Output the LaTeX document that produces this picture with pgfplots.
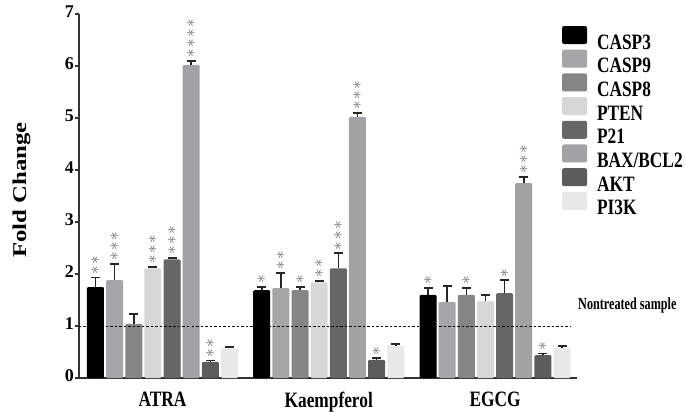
\documentclass[border=0pt]{standalone}
\usepackage{pgfplots}
\pgfplotsset{compat=1.18}
\usepackage{pgfplotstable}
\usepackage{fontspec}
\setmainfont{Liberation Serif}
\newfontfamily\lblfont{Liberation Serif}[FakeStretch=0.79]
\newfontfamily\ntfont{Liberation Serif}[FakeStretch=0.72]
\newfontfamily\ylfont{Liberation Serif}[FakeStretch=1.27]

\definecolor{cA}{RGB}{0,0,0}
\definecolor{cB}{RGB}{165,165,170}
\definecolor{cC}{RGB}{133,133,133}
\definecolor{cD}{RGB}{215,215,215}
\definecolor{cE}{RGB}{102,102,102}
\definecolor{cF}{RGB}{162,162,166}
\definecolor{cG}{RGB}{92,92,92}
\definecolor{cH}{RGB}{232,232,232}
\definecolor{starc}{RGB}{105,105,105}

\newcommand\st{\textcolor{starc}{$\ast$}}
\newcommand\sps{\hspace{1.5bp}}
\newcommand\stars[1]{\ifcase#1\relax\or\st\or\st\sps\st\or\st\sps\st\sps\st\or\st\sps\st\sps\st\sps\st\fi}

% x: 0 = ATRA, 1 = Kaempferol, 2 = EGCG ; s = number of stars
\pgfplotstableread{
x y err s
0 1.75 0.18 2
1 1.69 0.06 1
2 1.60 0.13 1
}\tA
\pgfplotstableread{
x y err s
0 1.88 0.31 3
1 1.73 0.29 2
2 1.46 0.31 0
}\tB
\pgfplotstableread{
x y err s
0 1.04 0.19 0
1 1.69 0.06 1
2 1.60 0.13 1
}\tC
\pgfplotstableread{
x y err s
0 2.11 0.03 3
1 1.84 0.03 2
2 1.48 0.12 0
}\tD
\pgfplotstableread{
x y err s
0 2.28 0.03 3
1 2.11 0.29 3
2 1.63 0.25 1
}\tE
\pgfplotstableread{
x y err s
0 6.02 0.08 4
1 5.02 0.08 3
2 3.75 0.12 3
}\tF
\pgfplotstableread{
x y err s
0 0.31 0.03 2
1 0.35 0.03 1
2 0.44 0.03 1
}\tG
\pgfplotstableread{
x y err s
0 0.57 0.03 0
1 0.62 0.03 0
2 0.58 0.03 0
}\tH

\pgfplotsset{
  mybar/.style n args={2}{ybar, bar width=17bp, bar shift=#2, fill=#1, draw=none,
    rounded corners=1.2bp,
    legend image code/.code={\fill[##1, fill=#1, draw=none, rounded corners=2bp] (0bp,-1.5bp) rectangle (25bp,16.5bp);}},
  errplot/.style={forget plot, draw=none, mark=none,
    error bars/.cd, y dir=plus, y explicit,
    error bar style={draw=black!85, line width=1.6bp},
    error mark options={draw=black!85, line width=1.6bp, mark size=4.5bp, rotate=90}},
  starplot/.style={forget plot, draw=none, mark=none,
    point meta=explicit symbolic,
    nodes near coords={\stars{\pgfplotspointmeta}},
    nodes near coords style={rotate=90, anchor=west, inner sep=3bp, font=\fontsize{17}{17}\selectfont}},
}
% offsets of the 8 bars inside a group, in axis units
\def\oA{-0.4031}\def\oB{-0.2879}\def\oC{-0.1727}\def\oD{-0.0576}
\def\oE{0.0576}\def\oF{0.1727}\def\oG{0.2879}\def\oH{0.4031}

\begin{document}
\begin{tikzpicture}
\useasboundingbox (-79bp,-35bp) rectangle (607bp,378bp);
\begin{axis}[
  scale only axis, width=498bp, height=364bp,
  xmin=-0.502, xmax=2.493, ymin=0, ymax=7,
  axis x line*=bottom, axis y line*=left,
  axis line style={line width=1.6bp, black!80},
  xtick={0,1,2}, xticklabels={ATRA,Kaempferol,EGCG},
  ytick={0,1,2,3,4,5,6,7},
  tick align=outside, major tick length=4bp,
  xtick style={draw=none}, ytick style={line width=1.2bp, black!80},
  xticklabel style={font=\lblfont\bfseries\fontsize{22}{22}\selectfont, inner sep=0pt, yshift=-10bp},
  yticklabel style={font=\bfseries\fontsize{18}{18}\selectfont, inner sep=1bp, yshift=2.5bp},
  /pgf/number format/assume math mode=true,
  ylabel={Fold Change},
  ylabel style={font=\ylfont\bfseries\fontsize{19.6}{20}\selectfont, at={(axis description cs:-0.1064,0.5165)}, anchor=base},
  clip=false,
  legend cell align=left,
  legend style={at={(axis description cs:0.970,0.967)}, anchor=north west, draw=none, fill=none,
    inner sep=0pt, outer sep=0pt, row sep=-0.8bp, column sep=10bp,
    nodes={inner sep=0pt},
    font=\lblfont\bfseries\fontsize{22}{22}\selectfont},
]
\addplot[mybar={cA}{-67.0bp}] table[x=x, y=y]{\tA};
\addplot[mybar={cB}{-47.9bp}] table[x=x, y=y]{\tB};
\addplot[mybar={cC}{-28.7bp}] table[x=x, y=y]{\tC};
\addplot[mybar={cD}{-9.6bp}] table[x=x, y=y]{\tD};
\addplot[mybar={cE}{9.6bp}] table[x=x, y=y]{\tE};
\addplot[mybar={cF}{28.7bp}] table[x=x, y=y]{\tF};
\addplot[mybar={cG}{47.9bp}] table[x=x, y=y]{\tG};
\addplot[mybar={cH}{67.0bp}] table[x=x, y=y]{\tH};
\legend{CASP3,CASP9,CASP8,PTEN,P21,BAX/BCL2,AKT,PI3K}

\addplot[errplot] table[x expr=\thisrow{x}+\oA, y=y, y error=err]{\tA};
\addplot[errplot] table[x expr=\thisrow{x}+\oB, y=y, y error=err]{\tB};
\addplot[errplot] table[x expr=\thisrow{x}+\oC, y=y, y error=err]{\tC};
\addplot[errplot] table[x expr=\thisrow{x}+\oD, y=y, y error=err]{\tD};
\addplot[errplot] table[x expr=\thisrow{x}+\oE, y=y, y error=err]{\tE};
\addplot[errplot] table[x expr=\thisrow{x}+\oF, y=y, y error=err]{\tF};
\addplot[errplot] table[x expr=\thisrow{x}+\oG, y=y, y error=err]{\tG};
\addplot[errplot] table[x expr=\thisrow{x}+\oH, y=y, y error=err]{\tH};

\addplot[starplot] table[x expr=\thisrow{x}+\oA, y expr=\thisrow{y}+\thisrow{err}, meta=s]{\tA};
\addplot[starplot] table[x expr=\thisrow{x}+\oB, y expr=\thisrow{y}+\thisrow{err}, meta=s]{\tB};
\addplot[starplot] table[x expr=\thisrow{x}+\oC, y expr=\thisrow{y}+\thisrow{err}, meta=s]{\tC};
\addplot[starplot] table[x expr=\thisrow{x}+\oD, y expr=\thisrow{y}+\thisrow{err}, meta=s]{\tD};
\addplot[starplot] table[x expr=\thisrow{x}+\oE, y expr=\thisrow{y}+\thisrow{err}, meta=s]{\tE};
\addplot[starplot] table[x expr=\thisrow{x}+\oF, y expr=\thisrow{y}+\thisrow{err}, meta=s]{\tF};
\addplot[starplot] table[x expr=\thisrow{x}+\oG, y expr=\thisrow{y}+\thisrow{err}, meta=s]{\tG};
\addplot[starplot] table[x expr=\thisrow{x}+\oH, y expr=\thisrow{y}+\thisrow{err}, meta=s]{\tH};

\addplot[forget plot, black, line width=1bp, dash pattern=on 2.5bp off 2bp] coordinates {(-0.502,1) (2.451,1)};
\node[anchor=base west, inner sep=0pt, font=\ntfont\bfseries\fontsize{17}{17}\selectfont] at (axis cs:2.499,1.31) {Nontreated sample};
\end{axis}
\end{tikzpicture}
\end{document}
